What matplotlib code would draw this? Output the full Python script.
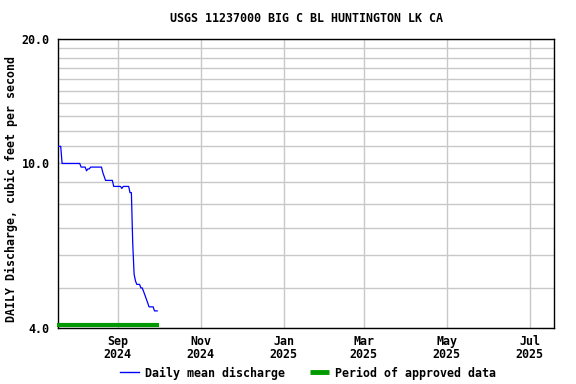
import numpy as np
import pandas as pd
import matplotlib
matplotlib.use("Agg")
import matplotlib.pyplot as plt
import matplotlib.dates as mdates
import matplotlib.transforms as mtransforms
from matplotlib.lines import Line2D

# ---- data ----
start_date = "2024-07-19"
discharge = [11.0, 11.0, 11.0,
             10.0, 10.0, 10.0, 10.0, 10.0, 10.0, 10.0, 10.0, 10.0, 10.0, 10.0, 10.0, 10.0, 10.0,
             9.8, 9.8, 9.8, 9.8, 9.6, 9.7, 9.7,
             9.8, 9.8, 9.8, 9.8, 9.8, 9.8, 9.8, 9.8, 9.8,
             9.5, 9.3,
             9.1, 9.1, 9.1, 9.1, 9.1, 9.1,
             8.8, 8.8, 8.8, 8.8, 8.8, 8.8, 8.7,
             8.8, 8.8, 8.8, 8.8, 8.8,
             8.5, 8.5, 6.4, 5.4, 5.2,
             5.1, 5.1, 5.1, 5.0, 5.0, 4.9, 4.8, 4.7, 4.6,
             4.5, 4.5, 4.5, 4.5, 4.4, 4.4, 4.4]
approved_start = "2024-07-19"
approved_end = "2024-10-01"
x_start = "2024-07-19"
x_end = "2025-07-19"
tick_dates = ["2024-09-01", "2024-11-01", "2025-01-01", "2025-03-01", "2025-05-01", "2025-07-01"]
tick_labels = ["Sep\n2024", "Nov\n2024", "Jan\n2025", "Mar\n2025", "May\n2025", "Jul\n2025"]
y_ticks = [4.0, 10.0, 20.0]
y_grid = list(range(4, 21))
title = "USGS 11237000 BIG C BL HUNTINGTON LK CA"
ylabel = "DAILY Discharge, cubic feet per second"

dates = pd.date_range(start_date, periods=len(discharge), freq="D")

plt.rcParams['font.family'] = ['DejaVu Sans Mono']
plt.rcParams['font.weight'] = 'bold'
FS = 8.4

fig = plt.figure(figsize=(5.76, 3.84), dpi=100)
ax = fig.add_axes([58/576, 1-328/384, (554-58)/576, (328-39)/384])

ax.set_yscale('log')
ax.set_ylim(4, 20)
ax.set_xlim(pd.Timestamp(x_start), pd.Timestamp(x_end))

grid_c = '#c8c8c8'
for v in y_grid:
    ax.axhline(v, color=grid_c, lw=1.0, zorder=1)
for d in tick_dates:
    ax.axvline(pd.Timestamp(d), color=grid_c, lw=1.0, zorder=1)

ax.plot(dates, discharge, color='#0000ff', lw=0.9, zorder=3)

trans = mtransforms.blended_transform_factory(ax.transData, ax.transAxes)
ax.plot([pd.Timestamp(approved_start) - pd.Timedelta(days=0.7), pd.Timestamp(approved_end)],
        [0.0115, 0.0115], transform=trans, color='#009900', lw=3.0,
        solid_capstyle='butt', clip_on=False, zorder=4)

ax.set_yticks(y_ticks)
ax.set_yticklabels([f"{v:.1f}" for v in y_ticks], fontsize=FS, fontweight='bold')
ax.yaxis.set_minor_locator(matplotlib.ticker.NullLocator())
ax.set_xticks([pd.Timestamp(d) for d in tick_dates])
ax.set_xticklabels(tick_labels, fontsize=FS, fontweight='bold', linespacing=1.05)
ax.tick_params(axis='y', length=0, pad=6)
ax.tick_params(axis='x', length=0, pad=5)

for s in ax.spines.values():
    s.set_color('black')
    s.set_linewidth(1.0)

fig.text(306/576, 1-19/384, title, ha='center', va='center', fontsize=FS, fontweight='bold')
fig.text(11/576, 1-189/384, ylabel, ha='center', va='center', rotation=90,
         fontsize=FS, fontweight='bold')

handles = [Line2D([], [], color='#0000ff', lw=1.0),
           Line2D([], [], color='#009900', lw=3.5, solid_capstyle='butt')]
fig.legend(handles, ["Daily mean discharge", "Period of approved data"],
           loc='center', bbox_to_anchor=(308/576, 1-373/384), ncol=2, frameon=False,
           handlelength=1.6, handletextpad=0.5, columnspacing=2.2,
           prop={'weight': 'bold', 'size': FS, 'family': 'DejaVu Sans Mono'})

fig.savefig("out.png", dpi=100)
